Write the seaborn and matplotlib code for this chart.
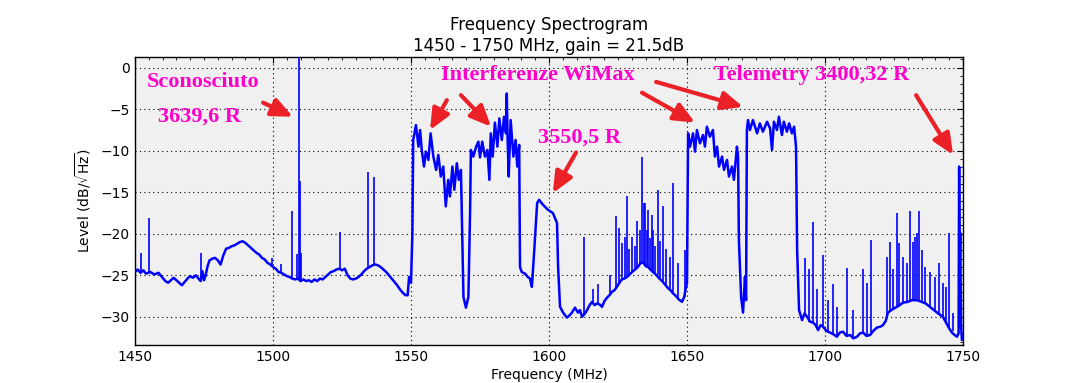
import matplotlib
matplotlib.use("Agg")
import matplotlib.pyplot as plt
import seaborn as sns
import numpy as np
from matplotlib.ticker import MultipleLocator

# ---- data ----
freq_mhz = [
    1450.0, 1451.0, 1452.0, 1453.0, 1454.0, 1455.5, 1457.0, 1458.5, 1460.0, 1461.0,
    1462.0, 1463.0, 1464.0, 1465.0, 1466.0, 1467.0, 1468.0, 1469.0, 1470.0, 1471.0,
    1472.0, 1473.0, 1473.8, 1474.4, 1475.0, 1475.6, 1476.3, 1477.0, 1478.0, 1479.0,
    1480.0, 1481.0, 1482.0, 1483.0, 1484.0, 1485.0, 1486.0, 1487.0, 1488.0, 1489.0,
    1490.0, 1491.0, 1492.0, 1493.0, 1494.0, 1495.0, 1496.0, 1497.0, 1498.0, 1499.0,
    1500.0, 1501.0, 1502.0, 1503.0, 1504.0, 1505.0, 1506.0, 1507.0, 1508.0, 1509.0,
    1510.0, 1511.0, 1512.0, 1513.0, 1514.0, 1515.0, 1516.0, 1517.0, 1518.0, 1519.0,
    1520.0, 1521.0, 1522.0, 1523.0, 1524.0, 1525.0, 1526.0, 1527.0, 1528.0, 1529.0,
    1530.0, 1531.0, 1532.0, 1533.0, 1534.0, 1535.0, 1536.0, 1537.0, 1538.0, 1539.0,
    1540.0, 1541.0, 1542.0, 1543.0, 1544.0, 1545.0, 1546.0, 1547.0, 1548.0, 1548.8,
    1549.3, 1550.0, 1550.5,
    1550.8, 1551.8, 1552.7, 1553.3, 1553.9, 1554.7, 1555.4, 1556.3, 1557.1, 1558.1,
    1559.1, 1559.9, 1560.8, 1561.7, 1562.6, 1563.5, 1564.1, 1565.0, 1565.7, 1566.6,
    1567.3, 1568.1, 1568.5, 1569.0, 1569.9, 1570.8, 1571.4, 1571.7, 1572.6, 1573.6,
    1574.4, 1575.0, 1575.8, 1576.8, 1577.7, 1578.4, 1578.9, 1579.6, 1580.4, 1581.3,
    1582.0, 1582.9, 1583.7, 1584.4, 1584.7, 1585.0, 1585.4, 1586.1, 1587.1, 1587.9,
    1588.5, 1589.2, 1589.5, 1590.1, 1591.3, 1592.3, 1593.1, 1593.8, 1594.6, 1595.7,
    1596.4, 1597.8, 1599.6, 1601.4, 1602.9, 1603.3, 1604.0, 1605.1, 1606.5, 1607.5,
    1608.3, 1609.4, 1610.5, 1611.2, 1612.0, 1613.0, 1613.8, 1614.7, 1615.6, 1616.5,
    1617.4, 1618.3, 1619.2, 1620.1, 1621.0, 1621.9, 1622.8, 1623.7, 1624.6, 1625.5,
    1626.4, 1627.3, 1628.3, 1629.2, 1630.1, 1631.2, 1632.2, 1633.0, 1634.1, 1635.0,
    1635.9, 1637.0, 1638.0, 1639.0, 1640.0, 1641.0, 1642.0, 1643.0, 1644.0, 1645.0,
    1646.0, 1647.0, 1648.2, 1649.0, 1649.6, 1650.0,
    1650.4, 1651.1, 1652.2, 1652.9, 1653.6, 1654.7, 1655.8, 1656.5, 1657.2, 1658.3,
    1659.4, 1660.1, 1660.9, 1661.6, 1662.7, 1663.4, 1664.5, 1665.2, 1666.3, 1667.0,
    1668.1, 1668.5, 1668.8, 1669.6, 1670.3, 1671.0, 1671.4, 1671.7, 1672.1, 1672.8,
    1673.9, 1675.4, 1676.4, 1677.5, 1679.0, 1680.1, 1680.8, 1681.5, 1682.6, 1683.3,
    1684.4, 1685.1, 1686.2, 1687.0, 1688.0, 1688.8, 1689.5, 1689.9, 1690.6, 1691.7,
    1692.6, 1693.5, 1694.6, 1695.7, 1696.6, 1697.5, 1698.4, 1699.3, 1700.5, 1701.8,
    1703.0, 1704.3, 1705.4, 1706.5, 1707.8, 1709.1, 1710.3, 1711.6, 1712.7, 1713.8,
    1715.0, 1716.3, 1717.5, 1718.8, 1720.0, 1721.0, 1722.0, 1722.8, 1724.0, 1725.5,
    1727.0, 1728.3, 1730.0, 1731.5, 1733.3, 1735.0, 1736.5, 1738.0, 1739.5, 1741.0,
    1742.7, 1744.0, 1745.0, 1746.0, 1747.0, 1747.8, 1748.4, 1748.6, 1748.8, 1749.0,
    1749.3, 1749.6, 1750.0,
]
level_db = [
    -24.6, -24.3, -24.7, -24.4, -24.8, -24.6, -24.9, -24.7, -25.3, -25.7,
    -25.9, -25.6, -25.3, -25.6, -25.9, -26.2, -25.8, -25.4, -25.1, -25.3,
    -25.0, -25.4, -25.7, -24.5, -25.6, -25.0, -23.9, -23.2, -23.0, -22.9,
    -23.2, -23.7, -22.6, -21.8, -21.7, -21.5, -21.4, -21.2, -21.0, -20.9,
    -21.1, -21.4, -21.7, -22.0, -22.3, -22.5, -22.9, -23.1, -23.5, -23.7,
    -24.0, -24.2, -24.6, -24.7, -24.9, -25.1, -25.2, -25.4, -25.5, -25.4,
    -25.7, -25.5, -25.7, -25.6, -25.8, -25.5, -25.7, -25.4, -25.5, -25.2,
    -24.9, -24.6, -24.5, -24.3, -24.2, -24.4, -24.2, -25.0, -25.4, -25.5,
    -25.4, -25.2, -24.9, -24.5, -24.2, -24.0, -23.8, -23.7, -23.8, -24.0,
    -24.3, -24.6, -25.0, -25.4, -25.8, -26.2, -26.7, -27.1, -27.4, -27.4,
    -25.2, -25.9, -20.0,
    -8.7, -6.9, -9.5, -7.5, -9.9, -11.9, -10.1, -11.1, -7.9, -10.7,
    -12.3, -10.5, -13.1, -11.9, -16.7, -13.5, -15.5, -11.9, -14.7, -11.5,
    -13.5, -12.3, -19.1, -27.6, -28.9, -27.6, -17.5, -9.9, -10.7, -9.5,
    -8.9, -10.8, -8.9, -10.7, -9.9, -13.5, -7.9, -10.7, -6.6, -9.5,
    -6.1, -8.7, -5.9, -7.9, -3.1, -8.5, -13.1, -6.3, -10.7, -8.7,
    -11.9, -9.3, -24.0, -24.6, -24.8, -25.2, -25.4, -26.4, -22.3, -16.3,
    -15.9, -16.5, -17.1, -17.5, -18.7, -24.0, -28.8, -29.5, -30.1, -29.8,
    -29.5, -28.9, -29.5, -29.2, -30.0, -29.6, -29.2, -28.6, -28.2, -28.6,
    -28.4, -28.5, -28.8, -28.1, -27.7, -27.4, -27.0, -26.8, -26.4, -25.9,
    -25.5, -25.4, -25.2, -24.9, -24.6, -24.3, -24.0, -23.6, -23.4, -23.9,
    -24.0, -24.4, -24.7, -25.0, -25.4, -25.7, -26.1, -26.5, -26.8, -27.2,
    -27.5, -27.9, -28.2, -27.6, -26.5, -25.9,
    -7.9, -9.5, -7.9, -10.1, -7.5, -9.1, -8.1, -9.5, -7.1, -8.3,
    -7.5, -10.7, -9.5, -11.9, -10.7, -12.3, -11.1, -13.1, -11.9, -13.5,
    -9.5, -10.7, -20.7, -27.6, -29.5, -25.2, -28.0, -7.5, -6.3, -7.5,
    -6.3, -7.9, -6.7, -7.7, -6.5, -7.3, -9.9, -6.5, -7.5, -5.9,
    -8.1, -6.5, -7.7, -6.7, -7.9, -7.1, -9.5, -21.9, -29.2, -30.4,
    -29.6, -30.0, -30.6, -30.7, -31.0, -31.6, -31.0, -31.2, -31.7, -31.9,
    -32.1, -32.4, -31.9, -31.8, -32.3, -32.2, -32.6, -32.4, -32.0, -31.9,
    -32.3, -32.2, -31.7, -31.3, -31.2, -31.0, -30.5, -29.5, -29.2, -28.9,
    -28.6, -28.3, -28.2, -28.0, -28.0, -28.2, -28.4, -28.8, -29.2, -29.6,
    -30.0, -30.8, -31.4, -31.9, -32.2, -32.4, -32.0, -11.9, -24.0, -19.9,
    -31.0, -32.8, -32.6,
]

# narrow spurs: frequency, top level, level at their foot
spur_freq = [
    1452.2, 1455.0, 1474.0, 1499.6, 1503.0, 1507.0, 1508.6, 1509.4, 1509.8, 1510.3,
    1524.3, 1534.4, 1536.6,
    1612.7, 1616.0, 1617.8, 1622.1, 1624.3, 1625.4, 1626.4, 1627.5, 1628.3, 1629.0,
    1630.1, 1631.2, 1632.0, 1633.0, 1633.7, 1634.4, 1634.9, 1635.5, 1635.9, 1636.6,
    1637.3, 1637.7, 1638.4, 1639.5, 1640.3, 1641.3, 1642.3, 1643.8, 1644.9, 1646.7,
    1649.3,
    1692.8, 1694.2, 1695.7, 1697.1, 1699.3, 1701.1, 1702.9, 1704.3, 1708.0, 1710.1,
    1713.8, 1715.2, 1716.7, 1722.5, 1723.6, 1724.6, 1726.1, 1726.8, 1728.3, 1729.7,
    1730.8, 1731.9, 1732.6, 1733.3, 1734.1, 1735.1, 1736.2, 1738.0, 1739.9, 1741.3,
    1742.7, 1743.8, 1744.9, 1746.4,
]
spur_top = [
    -22.3, -18.1, -22.3, -22.9, -23.7, -17.2, -22.4, 1.5, -13.7, -22.3,
    -19.8, -12.6, -13.1,
    -20.4, -26.7, -26.1, -25.0, -17.9, -19.3, -21.1, -20.4, -15.5, -21.8,
    -20.4, -21.5, -18.5, -19.5, -10.8, -16.3, -16.3, -19.5, -17.1, -20.5,
    -17.7, -19.5, -21.5, -14.7, -20.9, -16.7, -21.8, -22.8, -13.9, -23.5,
    -21.9,
    -22.9, -24.3, -18.6, -26.7, -22.5, -28.0, -26.1, -28.8, -24.1, -29.2,
    -24.3, -25.9, -20.7, -22.8, -21.0, -24.3, -17.5, -21.1, -22.8, -23.5,
    -17.3, -21.0, -20.4, -19.9, -17.3, -21.9, -24.0, -24.6, -25.2, -23.5,
    -25.9, -26.4, -19.9, -29.5,
]
spur_base = [
    -24.5, -24.7, -25.5, -23.8, -24.7, -25.4, -25.5, -25.5, -25.6, -25.7,
    -24.3, -24.2, -23.8,
    -29.8, -28.5, -28.5, -27.2, -26.5, -26.1, -25.6, -25.4, -25.2, -25.0,
    -24.6, -24.3, -24.0, -23.6, -23.5, -23.4, -23.8, -23.9, -24.0, -24.2,
    -24.4, -24.5, -24.8, -25.0, -25.4, -25.7, -26.2, -26.7, -27.0, -27.7,
    -27.6,
    -29.8, -30.6, -30.7, -31.2, -31.2, -31.9, -32.0, -32.4, -32.2, -32.5,
    -31.9, -32.2, -32.2, -29.8, -29.2, -29.1, -28.9, -28.8, -28.3, -28.2,
    -28.1, -28.0, -28.0, -28.0, -28.1, -28.2, -28.4, -28.8, -29.3, -29.7,
    -30.0, -30.6, -31.2, -31.7,
]

title_lines = ["Frequency Spectrogram", "1450 - 1750 MHz, gain = 21.5dB"]
x_label = "Frequency (MHz)"
y_label = r"Level (dB/$\sqrt{\mathrm{Hz}}$)"

# annotations: text, position (freq, level)
notes = [
    ("Sconosciuto", 1474.6, -1.7),
    ("3639,6 R", 1473.2, -5.9),
    ("Interferenze WiMax", 1596.0, -0.85),
    ("3550,5 R", 1611.2, -8.4),
    ("Telemetry 3400,32 R", 1695.3, -0.85),
]
# arrows: tail (freq, level) -> head (freq, level)
arrows = [
    ((1496.4, -4.2), (1507.2, -5.9)),
    ((1563.0, -3.9), (1556.9, -7.5)),
    ((1568.1, -3.3), (1579.0, -7.1)),
    ((1609.8, -10.2), (1601.4, -15.1)),
    ((1633.7, -3.0), (1652.9, -6.6)),
    ((1638.8, -1.7), (1670.3, -4.7)),
    ((1733.0, -3.3), (1746.4, -10.5)),
]

# ---- drawing ----
sns.set_theme(style="white")
plt.rcParams["font.family"] = ["DejaVu Sans"]
plt.rcParams["mathtext.fontset"] = "dejavusans"

fig = plt.figure(figsize=(10.69, 3.83), dpi=100)
ax = fig.add_axes([135 / 1069, 1 - 345 / 383, (963 - 135) / 1069, (345 - 57) / 383])
ax.set_facecolor("#f0f0f0")

ax.vlines(spur_freq, spur_base, spur_top, color="#0000ff", lw=1.2, zorder=3)
sns.lineplot(x=freq_mhz, y=level_db, color="#0000ff", lw=1.8, estimator=None,
             sort=False, ax=ax, zorder=4)

ax.set_xlim(1450, 1750)
ax.set_ylim(-33.4, 1.3)
ax.xaxis.set_major_locator(MultipleLocator(50))
ax.xaxis.set_minor_locator(MultipleLocator(5))
ax.yaxis.set_major_locator(MultipleLocator(5))
ax.yaxis.set_minor_locator(MultipleLocator(1))
ax.tick_params(which="both", direction="in", top=True, right=True, colors="black",
               labelsize=10)
ax.tick_params(which="major", length=4, width=0.8)
ax.tick_params(which="minor", length=2, width=0.6)
ax.grid(True, which="major", linestyle=(0, (1, 3)), color="black", lw=0.8)
for s in ax.spines.values():
    s.set_color("black")
    s.set_linewidth(1.0)

ax.set_xlabel(x_label, fontsize=10, color="black", labelpad=3)
ax.set_ylabel(y_label, fontsize=10, color="black", labelpad=6)
ax.set_title("\n".join(title_lines), fontsize=12, color="black", pad=4, linespacing=1.25)

for txt, fx, ly in notes:
    ax.text(fx, ly, txt, ha="center", va="center", color="#ff00cc",
            fontsize=16, fontweight="bold", family=["Liberation Serif", "DejaVu Serif"],
            zorder=6)
for (tx, ty), (hx, hy) in arrows:
    ax.annotate("", xy=(hx, hy), xytext=(tx, ty),
                arrowprops=dict(arrowstyle="-|>,head_length=0.9,head_width=0.4",
                                lw=3.0, color="#ec2027", shrinkA=0, shrinkB=0,
                                mutation_scale=14),
                zorder=6)

fig.savefig("out.png", dpi=100)
